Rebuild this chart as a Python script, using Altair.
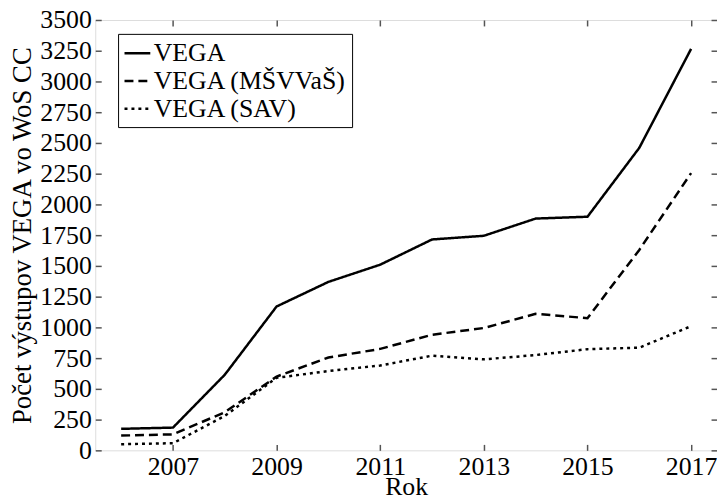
import altair as alt
import pandas as pd

years = [2006, 2007, 2008, 2009, 2010, 2011, 2012, 2013, 2014, 2015, 2016, 2017]
series_names = ["VEGA", "VEGA (MŠVVaŠ)", "VEGA (SAV)"]
vega_total = [175, 185, 615, 1170, 1370, 1510, 1715, 1745, 1885, 1900, 2460, 3265]
vega_msvvas = [120, 130, 310, 600, 755, 825, 940, 995, 1110, 1075, 1630, 2255]
vega_sav = [50, 58, 280, 590, 645, 690, 770, 740, 775, 823, 835, 1010]
x_ticks = [2007, 2009, 2011, 2013, 2015, 2017]
y_ticks = [0, 250, 500, 750, 1000, 1250, 1500, 1750, 2000, 2250, 2500, 2750, 3000, 3250, 3500]
x_title = "Rok"
y_title = "Počet výstupov VEGA vo WoS CC"

rows = []
for name, vals in zip(series_names, [vega_total, vega_msvvas, vega_sav]):
    for yr, v in zip(years, vals):
        rows.append({"year": yr, "value": v, "series": name})
df = pd.DataFrame(rows)

W, H = 627, 434
FONT = "Liberation Serif"
FS = 26
TFS = 27
FRAME = "#555555"

xscale = alt.Scale(domain=[2005.5, 2017.5], nice=False, zero=False)
yscale = alt.Scale(domain=[0, 3500], nice=False)

base = alt.Chart(df)

main = base.mark_line(color="black", strokeWidth=2.5, strokeCap="butt").encode(
    x=alt.X("year:Q", scale=xscale, axis=alt.Axis(
        orient="bottom", values=x_ticks, format="d", ticks=False, domain=False, grid=False,
        labelFont=FONT, labelFontSize=FS, labelColor="black", labelPadding=3,
        title=x_title, titleFont=FONT, titleFontSize=26, titleFontWeight="normal",
        titleColor="black", titleBaseline="alphabetic", titleY=45)),
    y=alt.Y("value:Q", scale=yscale, axis=alt.Axis(
        orient="left", values=y_ticks, format="d", ticks=False, domain=False, grid=False,
        labelFont=FONT, labelFontSize=FS, labelColor="black", labelPadding=4,
        title=y_title, titleFont=FONT, titleFontSize=TFS, titleFontWeight="normal",
        titleColor="black", titlePadding=3)),
    strokeDash=alt.StrokeDash("series:N",
        scale=alt.Scale(domain=series_names, range=[[1, 0], [9, 5], [3, 4]]),
        legend=alt.Legend(
            title=None, orient="none", legendX=23, legendY=14,
            strokeColor="black", fillColor="white", padding=5,
            symbolType="stroke", symbolStrokeColor="black", symbolStrokeWidth=2.5,
            symbolSize=676, labelFont=FONT, labelFontSize=FS, labelColor="black",
            labelOffset=2, labelLimit=0, rowPadding=0)),
)

def tick_axis(orient, vals, offset):
    return alt.Axis(orient=orient, values=vals, labels=False, domain=False, grid=False,
                    ticks=True, tickSize=6, tickColor=FRAME, tickWidth=1.5,
                    title=None, offset=offset)

ticks_a = base.mark_line(strokeOpacity=0).encode(
    x=alt.X("year:Q", scale=xscale, axis=tick_axis("top", x_ticks, -H)),
    y=alt.Y("value:Q", scale=yscale, axis=tick_axis("right", y_ticks, -W)),
    detail="series:N",
)
ticks_b = base.mark_line(strokeOpacity=0).encode(
    x=alt.X("year:Q", scale=xscale, axis=tick_axis("bottom", x_ticks, -H)),
    y=alt.Y("value:Q", scale=yscale, axis=tick_axis("left", y_ticks, -W)),
    detail="series:N",
)

chart = alt.layer(main, ticks_a, ticks_b).resolve_axis(
    x="independent", y="independent"
).properties(
    width=W, height=H, autosize="none",
    padding={"left": 88, "top": 10, "right": 0, "bottom": 50},
).configure_view(stroke=FRAME, strokeWidth=1.5).configure(background="white")

chart.save("out.html", embed_options={"renderer": "svg", "actions": False})
